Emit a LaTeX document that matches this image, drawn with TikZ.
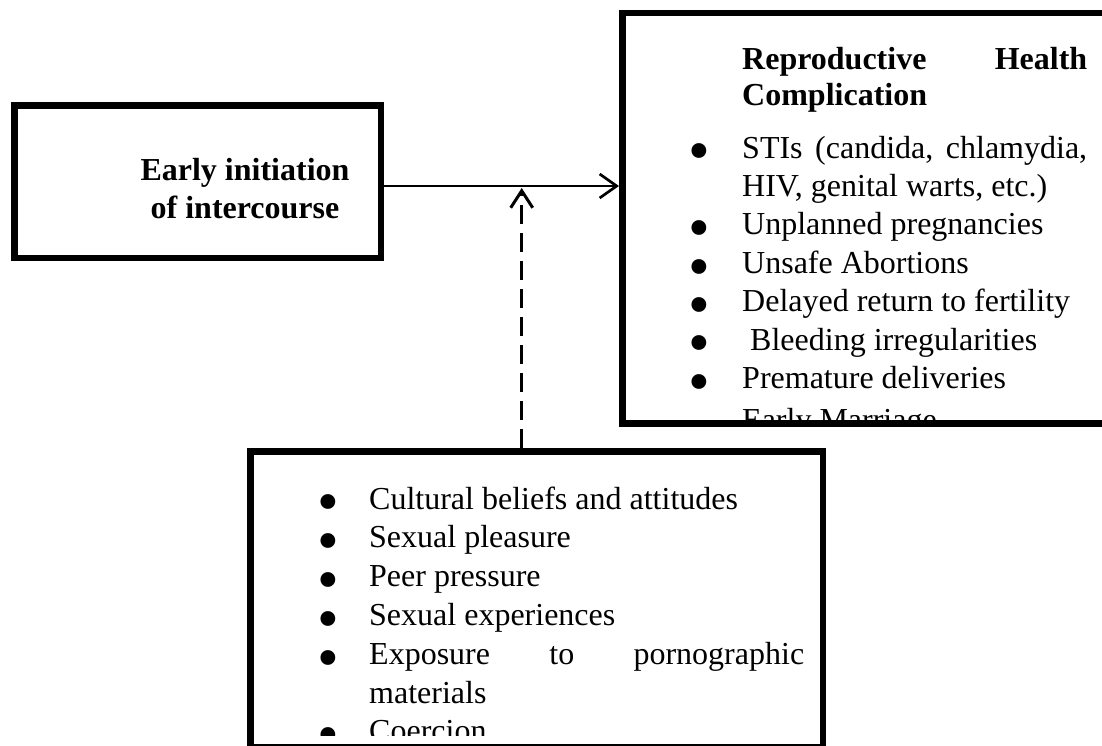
\documentclass[tikz,border=0pt]{standalone}
\usepackage{fontspec}
\setmainfont{Liberation Serif}
\usetikzlibrary{arrows.meta}
\begin{document}
\begin{tikzpicture}[x=1pt,y=-1pt,
  box/.style={draw, line width=6.5pt, inner sep=0pt},
  txt/.style={anchor=base west, inner sep=0pt, font=\fontsize{32}{38}\selectfont},
  btxt/.style={anchor=base west, inner sep=0pt, font=\fontsize{32}{38}\selectfont\bfseries},
  ctxt/.style={anchor=base, inner sep=0pt, font=\fontsize{32}{38}\selectfont\bfseries},
  bul/.style={anchor=base, inner sep=0pt, font=\fontsize{62}{62}\selectfont},
  arr/.style={line width=2.7pt, -{Straight Barb[length=17pt,width=24pt]}},
  darr/.style={line width=3pt, dash pattern=on 19pt off 9pt, -{Straight Barb[length=17pt,width=22pt]}},
]
\useasboundingbox (0,0) rectangle (1102,745);

% boxes
\node[box, minimum width=366.5pt, minimum height=152.5pt] (early) at (197.5,181.5) {};
\node[box, minimum width=486.5pt, minimum height=410.5pt] (rhc) at (865.5,218) {};
\node[box, minimum width=572.5pt, minimum height=295.5pt] (fac) at (536.5,599) {};

% left box text
\node[ctxt] (e1) at (245,180) {Early initiation};
\node[ctxt] (e2) at (245,218) {of intercourse};

% right box text
\begin{scope}
\clip (626,16) rectangle (1102,420);
\node[btxt] (h1) at (742,69) {\hbox to 345pt{Reproductive\hfill Health}};
\node[btxt] (h2) at (742,105) {Complication};
\node[txt] (r1) at (742,158) {\hbox to 345pt{STIs\hfill (candida,\hfill chlamydia,}};
\node[txt] (r2) at (742,196.4) {HIV, genital warts, etc.)};
\node[txt] (r3) at (742,234.8) {Unplanned pregnancies};
\node[txt] (r4) at (742,273.2) {Unsafe Abortions};
\node[txt] (r5) at (742,311.6) {Delayed return to fertility};
\node[txt] (r6) at (750,350) {Bleeding irregularities};
\node[txt] (r7) at (742,388.4) {Premature deliveries};
\node[txt] (r8) at (742,430) {Early Marriage};
\foreach \y [count=\i] in {158,234.8,273.2,311.6,350,388.4}
  \node[bul] (rb\i) at (699,\y+13.8) {•};
\end{scope}

% bottom box text
\begin{scope}
\clip (254,455) rectangle (820,735);
\node[txt] (f1) at (369,509) {Cultural beliefs and attitudes};
\node[txt] (f2) at (369,547.8) {Sexual pleasure};
\node[txt] (f3) at (369,586.6) {Peer pressure};
\node[txt] (f4) at (369,625.4) {Sexual experiences};
\node[txt] (f5) at (369,664.2) {\hbox to 435pt{Exposure\hfill to\hfill pornographic}};
\node[txt] (f6) at (369,703) {materials};
\node[txt] (f7) at (369,741.8) {Coercion};
\foreach \y [count=\i] in {509,547.8,586.6,625.4,664.2,741.8}
  \node[bul] (fb\i) at (328,\y+13.8) {•};
\end{scope}

% connectors
\coordinate (tip) at (521.7,188);
\draw[arr] ([yshift=-4.5pt]early.east) -- ([yshift=-4.5pt]early.east -| rhc.west);
\draw[darr] (fac.north -| tip) -- (tip);
\end{tikzpicture}
\end{document}
